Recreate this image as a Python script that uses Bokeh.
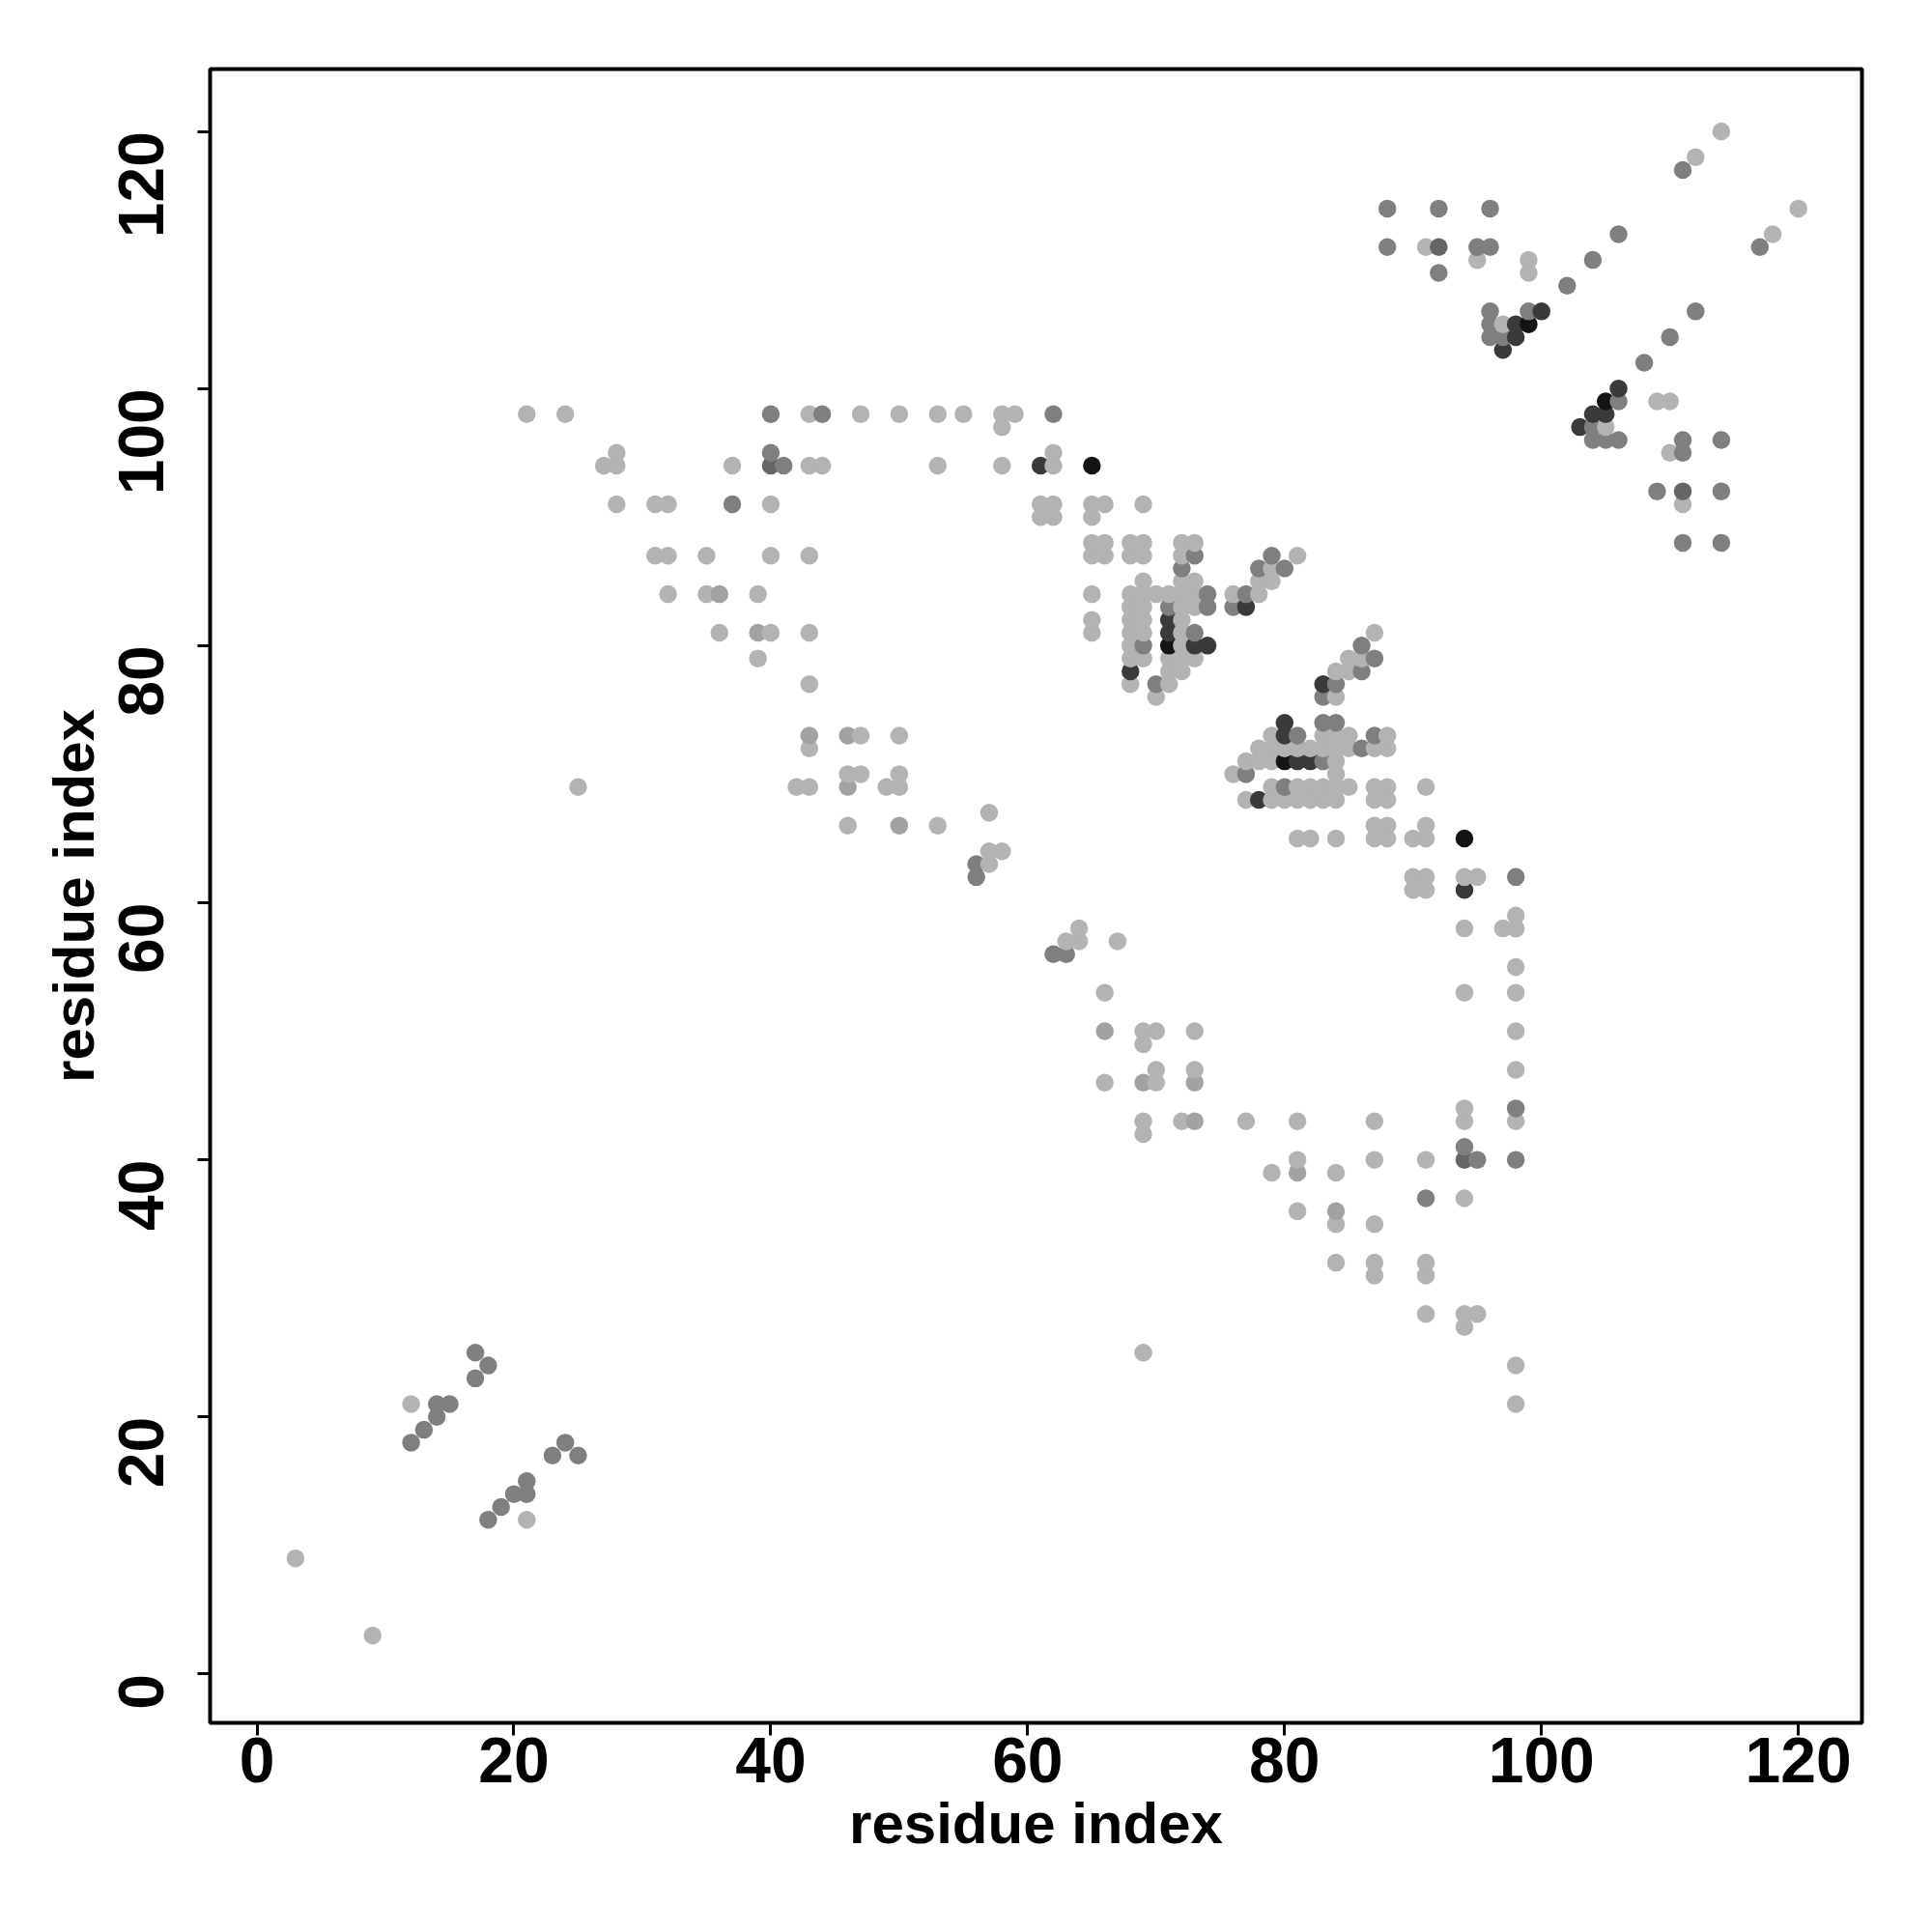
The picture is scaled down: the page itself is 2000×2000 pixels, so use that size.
import math
from bokeh.plotting import figure
from bokeh.models import ColumnDataSource, FixedTicker, Range1d
from bokeh.embed import file_html
from bokeh.resources import INLINE

# Contact map (upper triangle: res_i < res_j); the map is symmetric
res_i = [3, 12, 12, 13, 14, 14, 15, 17, 17, 18, 25,
         21, 24, 27, 28, 28, 28, 31, 31, 32, 32, 32, 35, 35, 36, 36, 37, 37,
         39, 39, 39, 40, 40, 40, 40, 40, 40, 41, 42, 43, 43, 43, 43, 43, 43, 43, 43,
         44, 44, 46, 46, 46, 46, 47, 47, 47, 49, 50, 50, 50, 50, 50, 53, 53, 53, 55,
         56, 56, 57, 57, 57, 58, 58, 58, 58, 59, 61, 61, 61, 62, 62, 62, 62, 62,
         65, 65, 65, 65, 65, 65, 65, 65, 66, 66, 66,
         68, 68, 68, 68, 68, 68, 68, 68, 68, 68,
         69, 69, 69, 69, 69, 69, 69, 69, 69, 69,
         70, 70, 70,
         71, 71, 71, 71, 71, 71, 71, 71,
         72, 72, 72, 72, 72, 72, 72, 72, 72, 72, 72,
         73, 73, 73, 73, 73, 73, 73, 73,
         74, 74, 74, 76, 76, 77, 77, 78, 78, 78, 79, 79, 79, 80, 81,
         88, 88, 91, 92, 92, 92, 95, 95, 96, 96, 96, 96, 96, 97, 97, 97,
         98, 98, 99, 99, 99, 99, 100, 102, 104, 106, 111, 112, 114]
res_j = [9, 18, 21, 19, 20, 21, 21, 23, 25, 24, 69,
         98, 98, 94, 91, 94, 95, 87, 91, 84, 87, 91, 84, 87, 81, 84, 91, 94,
         79, 81, 84, 81, 87, 91, 94, 95, 98, 94, 69, 69, 72, 73, 77, 81, 87, 94, 98,
         94, 98, 66, 69, 70, 73, 70, 73, 98, 69, 66, 69, 70, 73, 98, 66, 94, 98, 98,
         62, 63, 63, 64, 67, 64, 94, 97, 98, 98, 90, 91, 94, 90, 91, 94, 95, 98,
         81, 82, 84, 87, 88, 90, 91, 94, 87, 88, 91,
         77, 78, 79, 80, 81, 82, 83, 84, 87, 88,
         79, 80, 81, 82, 83, 84, 85, 87, 88, 91,
         76, 77, 84,
         77, 78, 79, 80, 81, 82, 83, 84,
         78, 79, 80, 81, 82, 83, 84, 85, 86, 87, 88,
         79, 80, 81, 83, 84, 85, 87, 88,
         80, 83, 84, 83, 84, 83, 84, 84, 85, 86, 85, 86, 87, 86, 87,
         111, 114, 111, 109, 111, 114, 110, 111, 104, 105, 106, 111, 114, 103, 104, 105,
         104, 105, 105, 106, 109, 110, 106, 108, 110, 112, 117, 118, 120]
# grey level class of each contact (1 = lightest ... 6 = black)
level = [1, 3, 1, 3, 3, 3, 3, 3, 3, 3, 1,
         1, 1, 1, 1, 1, 1, 1, 1, 1, 1, 1, 1, 1, 1, 2, 3, 1,
         1, 2, 1, 1, 1, 1, 4, 3, 3, 3, 1, 1, 1, 2, 1, 1, 1, 1, 1,
         1, 3, 1, 2, 1, 2, 1, 1, 1, 1, 2, 1, 1, 1, 1, 1, 1, 1, 1,
         3, 3, 1, 1, 1, 1, 1, 1, 1, 1, 1, 1, 5, 1, 1, 1, 1, 3,
         1, 1, 1, 1, 1, 1, 1, 6, 1, 1, 1,
         1, 5, 1, 1, 1, 1, 1, 1, 1, 1,
         1, 3, 1, 1, 1, 1, 1, 1, 1, 1,
         1, 3, 1,
         1, 1, 1, 6, 5, 5, 3, 1,
         1, 1, 1, 1, 1, 1, 1, 1, 3, 1, 1,
         1, 5, 3, 1, 1, 1, 3, 1,
         5, 3, 3, 3, 1, 5, 3, 1, 1, 3, 1, 1, 3, 3, 1,
         3, 3, 1, 3, 4, 3, 1, 3, 3, 3, 3, 3, 3, 5, 3, 1,
         5, 5, 6, 3, 1, 1, 5, 3, 3, 3, 3, 1, 1]

level_colors = {1: "#b3b3b3", 2: "#a2a2a2", 3: "#7f7f7f", 4: "#666666", 5: "#3a3a3a", 6: "#141414"}
ticks = [0, 20, 40, 60, 80, 100, 120]

# symmetric map: both (i, j) and (j, i)
pts = [(a, b, c) for a, b, c in zip(res_i, res_j, level)] + \
      [(b, a, c) for a, b, c in zip(res_i, res_j, level)]
pts.sort(key=lambda t: (t[0], t[1]))
src = ColumnDataSource(dict(
    x=[t[0] for t in pts],
    y=[t[1] for t in pts],
    color=[level_colors[t[2]] for t in pts],
))

p = figure(width=1992, height=1992, output_backend="svg", toolbar_location=None,
           x_range=Range1d(-3.65, 124.95), y_range=Range1d(-3.8, 124.85),
           min_border_left=217, min_border_right=65, min_border_top=71, min_border_bottom=209)
p.scatter("x", "y", source=src, size=18.5, fill_color="color", line_color=None)

p.xgrid.visible = False
p.ygrid.visible = False
p.outline_line_color = "black"
p.outline_line_width = 4
p.background_fill_color = "white"

font = "Liberation Sans"
for ax in (p.xaxis[0], p.yaxis[0]):
    ax.ticker = FixedTicker(ticks=ticks)
    ax.minor_tick_line_color = None
    ax.major_tick_in = 0
    ax.major_tick_out = 13
    ax.major_tick_line_width = 3
    ax.axis_line_width = 3
    ax.major_label_text_font = font
    ax.major_label_text_font_style = "bold"
    ax.major_label_text_font_size = "66px"
    ax.major_label_text_color = "black"
    ax.axis_label = "residue index"
    ax.axis_label_text_font = font
    ax.axis_label_text_font_style = "bold"
    ax.axis_label_text_font_size = "60px"
    ax.axis_label_text_color = "black"

p.xaxis.major_label_standoff = 2
p.xaxis.axis_label_standoff = 6
p.yaxis.major_label_orientation = math.pi / 2
p.yaxis.major_label_standoff = 58
p.yaxis.axis_label_standoff = -12

open("out.html", "w").write(file_html(p, INLINE))
